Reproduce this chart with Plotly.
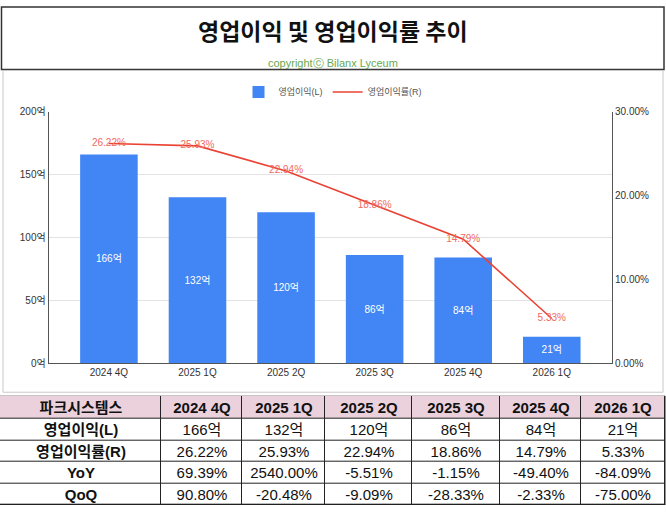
import plotly.graph_objects as go

# values
quarters = ['2024 4Q', '2025 1Q', '2025 2Q', '2025 3Q', '2025 4Q', '2026 1Q']
op_income = [166, 132, 120, 86, 84, 21]          # 억
op_margin = [26.22, 25.93, 22.94, 18.86, 14.79, 5.33]  # %
yoy = [69.39, 2540.00, -5.51, -1.15, -49.40, -84.09]
qoq = [90.80, -20.48, -9.09, -28.33, -2.33, -75.00]
row_labels = ['영업이익(L)', '영업이익률(R)', 'YoY', 'QoQ']
company = '파크시스템스'

BLUE = '#4285f4'
RED = '#ea4335'
W, H = 666, 512


def py(px_from_top):
    return 1 - px_from_top / H


fig = go.Figure()

fig.add_trace(go.Bar(
    x=quarters, y=op_income, name='영업이익(L)',
    marker=dict(color=BLUE, line=dict(width=0)),
    width=0.65,
    text=[f'{v}억' for v in op_income],
    textposition='inside', insidetextanchor='middle',
    textfont=dict(color='white', size=10),
    hoverinfo='skip',
))

fig.add_trace(go.Scatter(
    x=quarters, y=op_margin, name='영업이익률(R)', yaxis='y2',
    mode='lines+text',
    line=dict(color=RED, width=1.6),
    text=[f'{v:.2f}%' for v in op_margin],
    textposition='middle center',
    textfont=dict(color='#f06a5e', size=10),
    hoverinfo='skip',
))

# table under the chart, drawn as a heatmap grid (header row pink)
col_edges = [0, 161, 242, 325, 412, 500, 581, 665]
row_edges = [0, 24, 46, 68, 90, 112]

cells = [[f'<b>{company}</b>'] + [f'<b>{q}</b>' for q in quarters]]
cells.append([f'<b>{row_labels[0]}</b>'] + [f'{v}억' for v in op_income])
cells.append([f'<b>{row_labels[1]}</b>'] + [f'{v:.2f}%' for v in op_margin])
cells.append([f'<b>{row_labels[2]}</b>'] + [f'{v:.2f}%' for v in yoy])
cells.append([f'<b>{row_labels[3]}</b>'] + [f'{v:.2f}%' for v in qoq])
fill = [[1] * 7] + [[0] * 7 for _ in range(4)]

fig.add_trace(go.Heatmap(
    x=col_edges, y=row_edges, z=fill, xaxis='x3', yaxis='y3',
    colorscale=[[0, 'white'], [1, '#ead1dc']], zmin=0, zmax=1, showscale=False,
    xgap=1, ygap=1,
    text=cells, texttemplate='%{text}',
    textfont=dict(family='Liberation Sans, Noto Sans CJK KR', size=15, color='#111'),
    hoverinfo='skip', showlegend=False,
))

fig.update_layout(
    width=W, height=H,
    margin=dict(l=0, r=0, t=0, b=0),
    paper_bgcolor='white', plot_bgcolor='white',
    font=dict(family='Liberation Sans, Noto Sans CJK KR', color='#333'),
    showlegend=True,
    legend=dict(orientation='h', x=0.5, xanchor='center', y=py(88), yanchor='middle',
                font=dict(size=9, color='#555'), itemwidth=30),
    xaxis=dict(domain=[48.7 / W, 612 / W], type='category', range=[-0.68, 5.68],
               showline=True, linecolor='#555', linewidth=1, ticks='',
               tickfont=dict(size=10, color='#333'), anchor='y', fixedrange=True),
    yaxis=dict(domain=[py(365.7), py(108.3)], range=[0, 200], dtick=50, ticksuffix='억',
               showline=True, linecolor='#555', linewidth=1,
               gridcolor='#e3e3e3', zeroline=False,
               tickfont=dict(size=10, color='#333'), fixedrange=True),
    yaxis2=dict(overlaying='y', side='right', range=[0, 30], dtick=10,
                tickformat='.2f', ticksuffix='%', showgrid=False, zeroline=False,
                showline=True, linecolor='#555', linewidth=1, anchor='x',
                tickfont=dict(size=10, color='#333'), fixedrange=True),
    xaxis3=dict(domain=[0, 1], range=[0, W], anchor='y3', visible=False, fixedrange=True),
    yaxis3=dict(domain=[py(511), py(399)], range=[112, 0], anchor='x3', visible=False,
                fixedrange=True),
    shapes=[
        dict(type='rect', xref='paper', yref='paper', x0=1.5 / W, x1=664 / W,
             y0=py(65), y1=py(1), line=dict(color='#333', width=1.5)),
        dict(type='rect', xref='paper', yref='paper', x0=3 / W, x1=663 / W,
             y0=py(395.5), y1=py(66), line=dict(color='#c8c8c8', width=1)),
        # black backing for the table grid lines
        dict(type='rect', xref='x3', yref='y3', x0=col_edges[0], x1=col_edges[-1],
             y0=row_edges[0], y1=row_edges[-1], layer='below',
             fillcolor='#222', line=dict(color='#222', width=1)),
    ],
    annotations=[
        dict(text='<b>영업이익 및 영업이익률 추이</b>', xref='paper', yref='paper',
             x=0.5, y=py(25), xanchor='center', yanchor='middle', showarrow=False,
             font=dict(family='Noto Sans CJK KR', size=23, color='#111')),
        dict(text='copyrightⓒ Bilanx Lyceum', xref='paper', yref='paper',
             x=0.5, y=py(58), xanchor='center', yanchor='middle', showarrow=False,
             font=dict(family='Liberation Sans', size=11, color='#6aa84f')),
    ],
)

fig.write_html('out.html', config={'displayModeBar': False},
               post_script="document.body.style.margin='0';")
